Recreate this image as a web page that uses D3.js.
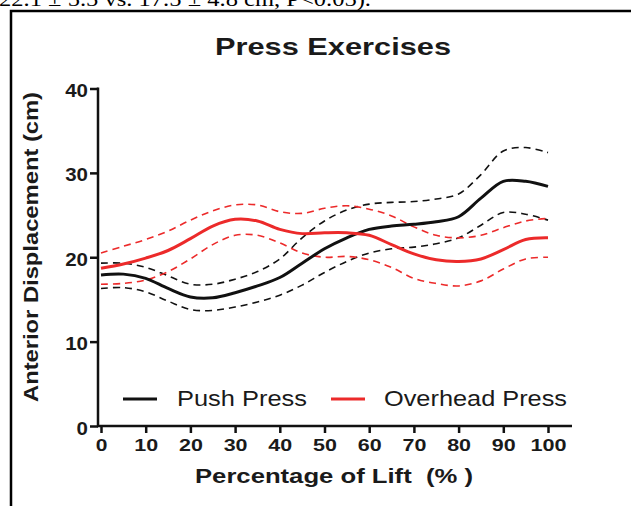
<!DOCTYPE html>
<html>
<head>
<meta charset="utf-8">
<script src="https://cdn.jsdelivr.net/npm/d3@7"></script>
<style>
  html, body { margin: 0; padding: 0; background: #fff; }
  svg { display: block; }
  text { fill: #1a1a1a; }
</style>
</head>
<body>
<svg id="chart" width="631" height="506"></svg>
<script>
// percentage of lift
const pct = [0, 5, 10, 15, 20, 25, 30, 35, 40, 45, 50, 55, 60, 65, 70, 75, 80, 85, 90, 95, 100];

// push press: mean and +/- band (cm)
const pushMean  = [17.9, 18.0, 17.5, 16.3, 15.3, 15.2, 15.8, 16.6, 17.6, 19.3, 21.0, 22.3, 23.3, 23.7, 23.9, 24.2, 24.8, 27.0, 29.0, 29.0, 28.4];
const pushUpper = [19.3, 19.3, 18.8, 17.8, 16.8, 16.8, 17.4, 18.3, 19.8, 22.3, 24.3, 25.6, 26.3, 26.5, 26.6, 26.9, 27.5, 29.8, 32.6, 33.0, 32.4];
const pushLower = [16.3, 16.4, 15.9, 14.8, 13.8, 13.7, 14.1, 14.7, 15.5, 16.7, 18.2, 19.5, 20.5, 21.0, 21.2, 21.6, 22.3, 23.8, 25.3, 25.1, 24.4];

// overhead press
const ohpMean  = [18.7, 19.2, 19.9, 20.8, 22.2, 23.7, 24.5, 24.3, 23.3, 22.8, 22.9, 22.9, 22.6, 21.5, 20.4, 19.7, 19.5, 19.8, 20.9, 22.1, 22.3];
const ohpUpper = [20.5, 21.3, 22.1, 23.1, 24.4, 25.5, 26.2, 26.2, 25.4, 25.2, 25.8, 26.1, 25.7, 24.9, 23.6, 22.6, 22.3, 22.6, 23.5, 24.3, 24.6];
const ohpLower = [16.8, 16.9, 17.3, 18.3, 19.8, 21.5, 22.6, 22.6, 21.7, 20.5, 20.0, 20.1, 19.7, 18.8, 17.5, 16.9, 16.6, 17.2, 18.6, 19.8, 20.0];

const xTicks = [0, 10, 20, 30, 40, 50, 60, 70, 80, 90, 100];
const yTicks = [0, 10, 20, 30, 40];
const legendNames = ['Push Press', 'Overhead Press'];

const black = '#111';
const red = '#ec2a2a';

const svg = d3.select('#chart');

// frame of the figure box and clipped caption line above it
svg.append('text')
  .attr('x', -1)
  .attr('y', 6)
  .attr('font-family', '"Liberation Serif", serif')
  .attr('font-size', 20)
  .attr('textLength', 372)
  .attr('lengthAdjust', 'spacingAndGlyphs')
  .style('fill', '#000')
  .text('22.1 \u00b1 5.5 vs. 17.5 \u00b1 4.8 cm, P<0.05).');

svg.append('path')
  .attr('d', 'M11,506V11H631')
  .attr('fill', 'none')
  .attr('stroke', '#000')
  .attr('stroke-width', 2.5);

const x = d3.scaleLinear().domain([0, 100]).range([101, 548]);
const y = d3.scaleLinear().domain([0, 40]).range([426, 88.5]);

// axes
const yAxis = svg.append('g')
  .attr('transform', 'translate(98,0)')
  .call(d3.axisLeft(y).tickValues(yTicks).tickSize(8).tickPadding(2).tickSizeOuter(0));

const xAxis = svg.append('g')
  .attr('transform', 'translate(0,426)')
  .call(d3.axisBottom(x).tickValues(xTicks).tickSize(7).tickPadding(6).tickSizeOuter(0));

[xAxis, yAxis].forEach(g => {
  g.select('.domain').remove();
  g.selectAll('.tick line').attr('stroke', black).attr('stroke-width', 2.5);
  g.selectAll('.tick text')
    .attr('font-family', 'Arial, "Liberation Sans", sans-serif')
    .attr('font-weight', 'bold')
    .attr('font-size', 17)
    .attr('lengthAdjust', 'spacingAndGlyphs')
    .style('fill', '#1a1a1a');
});

xAxis.selectAll('.tick text')
  .attr('textLength', d => String(d).length * 12.2 - 0.5);
yAxis.selectAll('.tick text')
  .attr('font-size', 18)
  .attr('dy', '0.45em')
  .attr('textLength', d => String(d).length * 11.4);

svg.append('line')
  .attr('x1', 98).attr('x2', 98)
  .attr('y1', y(40) - 1).attr('y2', 427)
  .attr('stroke', black).attr('stroke-width', 2.5);
svg.append('line')
  .attr('x1', 97).attr('x2', 572)
  .attr('y1', 426).attr('y2', 426)
  .attr('stroke', black).attr('stroke-width', 2.5);

// lines
const line = d3.line()
  .x((d, i) => x(pct[i]))
  .y(d => y(d))
  .curve(d3.curveCatmullRom.alpha(0.5));

const series = [
  { values: pushUpper, color: black, width: 1.6, dash: '7,5' },
  { values: pushLower, color: black, width: 1.6, dash: '7,5' },
  { values: ohpUpper, color: red, width: 1.6, dash: '7,5' },
  { values: ohpLower, color: red, width: 1.6, dash: '7,5' },
  { values: pushMean, color: black, width: 3, dash: null },
  { values: ohpMean, color: red, width: 3, dash: null }
];

svg.append('g').selectAll('path')
  .data(series)
  .join('path')
  .attr('d', d => line(d.values))
  .attr('fill', 'none')
  .attr('stroke', d => d.color)
  .attr('stroke-width', d => d.width)
  .attr('stroke-dasharray', d => d.dash);

// legend
const legend = [
  { name: legendNames[0], color: black, x1: 123, x2: 157, tx: 177, tl: 130 },
  { name: legendNames[1], color: red, x1: 331, x2: 365, tx: 384, tl: 183 }
];
const lg = svg.append('g').selectAll('g').data(legend).join('g');
lg.append('line')
  .attr('x1', d => d.x1).attr('x2', d => d.x2)
  .attr('y1', 399).attr('y2', 399)
  .attr('stroke', d => d.color).attr('stroke-width', 3);
lg.append('text')
  .attr('x', d => d.tx)
  .attr('y', 406)
  .attr('font-family', 'Arial, "Liberation Sans", sans-serif')
  .attr('font-size', 22)
  .attr('textLength', d => d.tl)
  .attr('lengthAdjust', 'spacingAndGlyphs')
  .text(d => d.name);

// titles
svg.append('text')
  .attr('x', 215)
  .attr('y', 55)
  .attr('font-family', 'Arial, "Liberation Sans", sans-serif')
  .attr('font-weight', 'bold')
  .attr('font-size', 24)
  .attr('textLength', 236)
  .attr('lengthAdjust', 'spacingAndGlyphs')
  .text('Press Exercises');

svg.append('text')
  .attr('x', 195)
  .attr('y', 483)
  .attr('font-family', 'Arial, "Liberation Sans", sans-serif')
  .attr('font-weight', 'bold')
  .attr('font-size', 20)
  .attr('textLength', 278)
  .attr('lengthAdjust', 'spacingAndGlyphs')
  .style('white-space', 'pre')
  .text('Percentage of Lift  (% )');

svg.append('text')
  .attr('transform', 'translate(38,247) rotate(-90)')
  .attr('text-anchor', 'middle')
  .attr('font-family', 'Arial, "Liberation Sans", sans-serif')
  .attr('font-weight', 'bold')
  .attr('font-size', 20)
  .attr('textLength', 310)
  .attr('lengthAdjust', 'spacingAndGlyphs')
  .text('Anterior Displacement (cm)');
</script>
</body>
</html>
